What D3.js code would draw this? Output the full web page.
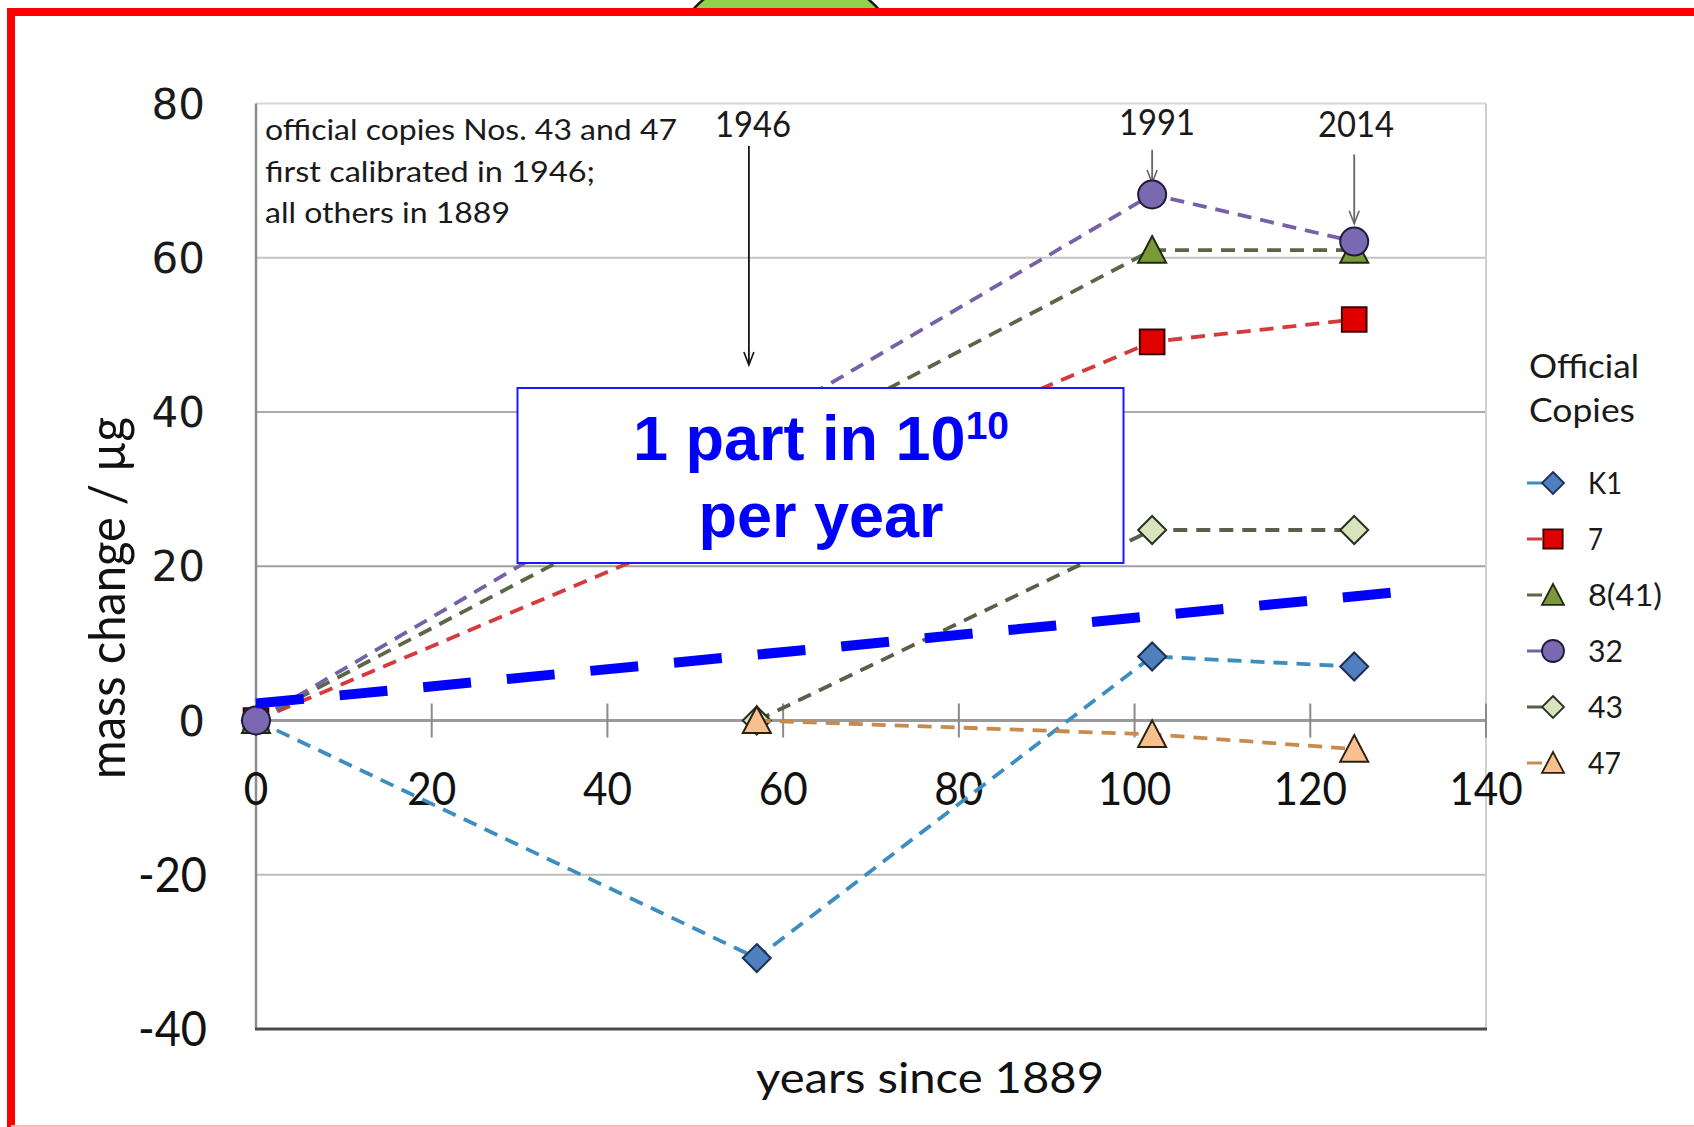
<!DOCTYPE html>
<html>
<head>
<meta charset="utf-8">
<script src="https://cdn.jsdelivr.net/npm/d3@7"></script>
<style>
  html, body { margin: 0; padding: 0; background: #fff; overflow: hidden; }
  svg { display: block; }
</style>
</head>
<body>
<script>
// ---- data -------------------------------------------------------------
// years since 1889 at which the official copies were weighed
const years = [0, 57, 102, 125];

// mass change (µg) of each official copy; null where not weighed
const seriesNames = ['K1', '7', '8(41)', '32', '43', '47'];
const massK1  = [0, -30.8, 8.3, 7.0];
const mass7   = [0, null, 49.1, 52.0];
const mass8   = [0, null, 61.0, 61.0];
const mass32  = [0, null, 68.2, 62.1];
const mass43  = [null, 0, 24.7, 24.7];
const mass47  = [null, 0, -1.8, -3.7];

const xTicks = [0, 20, 40, 60, 80, 100, 120, 140];
const yTicks = [80, 60, 40, 20, 0, -20, -40];

// guide line for a drift of roughly 1 part in 10^10 per year
const trendYears  = [0, 129.5];
const trendValues = [2.2, 16.6];

// calibration campaign arrows
const eventLabels = ['1946', '1991', '2014'];
const eventYears  = [56.1, 102, 125];
const arrowFrom   = [74.5, 74.0, 73.4];
const arrowTo     = [46.1, 69.7, 64.4];

// ---- styles -----------------------------------------------------------
const styles = {
  'K1':    { line: '#3d8ec0', fill: '#4f7fbf', stroke: '#1c2f55', shape: 'diamond' },
  '7':     { line: '#d63a3c', fill: '#e00000', stroke: '#3a0000', shape: 'square' },
  '8(41)': { line: '#5b6647', fill: '#7a9a3a', stroke: '#1e2a10', shape: 'triangle' },
  '32':    { line: '#7661a8', fill: '#7a68b0', stroke: '#1e1a38', shape: 'circle' },
  '43':    { line: '#56604a', fill: '#d8e4bc', stroke: '#2a3020', shape: 'diamond' },
  '47':    { line: '#c88a4e', fill: '#f9c08f', stroke: '#2a2010', shape: 'triangle' }
};
const seriesValues = [massK1, mass7, mass8, mass32, mass43, mass47];

const W = 1694, H = 1127;
const svg = d3.select('body').append('svg').attr('width', W).attr('height', H);

const x = d3.scaleLinear().domain([0, 140]).range([256, 1486]);
const y = d3.scaleLinear().domain([-40, 80]).range([1029, 103.5]);

const LABEL_FONT = 'Lato, "Open Sans", sans-serif';

function text(g, s, o) {
  const t = g.append('text')
    .attr('x', o.x || 0).attr('y', o.y || 0)
    .attr('font-family', o.family || LABEL_FONT)
    .attr('font-size', o.fs)
    .attr('font-weight', o.weight || 'normal')
    .attr('fill', o.fill || '#1a1a1a')
    .attr('text-anchor', o.anchor || 'start')
    .text(s);
  if (o.len) t.attr('textLength', o.len).attr('lengthAdjust', 'spacingAndGlyphs');
  if (o.transform) t.attr('transform', o.transform);
  return t;
}

function markerPath(shape, s) {
  switch (shape) {
    case 'diamond':  return `M0,${-s}L${s},0L0,${s}L${-s},0Z`;
    case 'square':   return `M${-s * 0.88},${-s * 0.88}H${s * 0.88}V${s * 0.88}H${-s * 0.88}Z`;
    case 'triangle': return `M0,${-s}L${s},${s * 0.9}L${-s},${s * 0.9}Z`;
    default:         return d3.symbol(d3.symbolCircle, Math.PI * s * s)();
  }
}

// ---- slide frame ------------------------------------------------------
svg.append('circle').attr('cx', 786).attr('cy', 96).attr('r', 127)
  .attr('fill', '#92d050').attr('stroke', '#1a1a1a').attr('stroke-width', 2.5);
svg.append('rect').attr('x', 11).attr('y', 12).attr('width', 1720).attr('height', 1119)
  .attr('fill', '#fff').attr('stroke', '#ff0000').attr('stroke-width', 8);
svg.append('line').attr('x1', 11).attr('x2', W).attr('y1', 1126).attr('y2', 1126)
  .attr('stroke', '#ffb8b8').attr('stroke-width', 2);

// ---- plot frame & grid ------------------------------------------------
const grid = svg.append('g');
const gridColour = { 80: '#d6d6d6', 60: '#c4c4c4', 40: '#a9a9a9', 20: '#a0a0a0', '-20': '#bcbcbc' };
grid.selectAll('line.h').data(yTicks.filter(v => v !== 0 && v !== -40)).join('line')
  .attr('x1', x(0)).attr('x2', x(140))
  .attr('y1', d => y(d)).attr('y2', d => y(d))
  .attr('stroke', d => gridColour[d]).attr('stroke-width', 2);
grid.append('line').attr('x1', x(140)).attr('x2', x(140)).attr('y1', y(80)).attr('y2', y(-40))
  .attr('stroke', '#cfcfcf').attr('stroke-width', 2);
grid.append('line').attr('x1', x(0)).attr('x2', x(0)).attr('y1', y(80)).attr('y2', y(-40))
  .attr('stroke', '#8c8c8c').attr('stroke-width', 2.5);
grid.append('line').attr('x1', x(0) - 1).attr('x2', x(140) + 1).attr('y1', y(-40)).attr('y2', y(-40))
  .attr('stroke', '#4a4a4a').attr('stroke-width', 3);
// x axis through zero with crossing ticks
grid.append('line').attr('x1', x(0)).attr('x2', x(140)).attr('y1', y(0)).attr('y2', y(0))
  .attr('stroke', '#9a9a9a').attr('stroke-width', 3);
grid.selectAll('line.tick').data(xTicks.filter(t => t > 0)).join('line')
  .attr('x1', d => x(d)).attr('x2', d => x(d))
  .attr('y1', y(0) - 17).attr('y2', y(0) + 17)
  .attr('stroke', '#8a8a8a').attr('stroke-width', 2);

// ---- tick labels --------------------------------------------------------
const labels = svg.append('g');
xTicks.forEach(t => {
  const s = String(t);
  text(labels, s, { x: x(t), y: y(0) + 84, fs: 46, anchor: 'middle', len: 24.5 * s.length, fill: '#111' });
});
yTicks.forEach(v => {
  if (v >= 0) {
    text(labels, String(v), { x: 205, y: y(v) + 15, fs: 42, anchor: 'end',
      family: '"DejaVu Sans", Verdana, sans-serif', fill: '#1a1a1a' });
  } else {
    text(labels, String(v), { x: 207, y: y(v) + 17, fs: 48, anchor: 'end', len: 69, fill: '#111' });
  }
});

// axis titles
text(labels, 'years since 1889', { x: 930, y: 1093, fs: 42, anchor: 'middle', len: 348, fill: '#111' });
text(labels, 'mass change / µg', { fs: 50, anchor: 'middle', len: 362, fill: '#111',
  transform: 'translate(125,598) rotate(-90)' });

// ---- annotations ------------------------------------------------------
const notes = svg.append('g');
text(notes, 'official copies Nos. 43 and 47', { x: 265, y: 140, fs: 29, len: 412, fill: '#1a1a1a' });
text(notes, 'first calibrated in 1946;', { x: 265, y: 182, fs: 29, len: 330, fill: '#1a1a1a' });
text(notes, 'all others in 1889', { x: 265, y: 223, fs: 29, len: 245, fill: '#1a1a1a' });

const labelX = [753, 1157, 1356];
const labelY = [137, 135, 137];
eventLabels.forEach((lab, i) => {
  text(notes, lab, { x: labelX[i], y: labelY[i], fs: 36, anchor: 'middle', len: 76, fill: '#1a1a1a' });
  const ax = x(eventYears[i]);
  const col = i === 0 ? '#111' : '#666';
  const y0 = y(arrowFrom[i]), y1 = y(arrowTo[i]);
  notes.append('line').attr('x1', ax).attr('x2', ax).attr('y1', y0).attr('y2', y1)
    .attr('stroke', col).attr('stroke-width', 1.8);
  notes.append('path').attr('d', `M${ax - 5},${y1 - 13}L${ax},${y1}L${ax + 5},${y1 - 13}`)
    .attr('fill', 'none').attr('stroke', col).attr('stroke-width', 1.6);
});

// ---- series -----------------------------------------------------------
const plot = svg.append('g');
seriesNames.forEach((name, i) => {
  const st = styles[name];
  const pts = years.map((t, j) => ({ t, v: seriesValues[i][j] })).filter(p => p.v !== null);
  const g = plot.append('g');
  g.append('path')
    .attr('d', d3.line().x(p => x(p.t)).y(p => y(p.v))(pts))
    .attr('fill', 'none').attr('stroke', st.line).attr('stroke-width', 3.8)
    .attr('stroke-dasharray', '14,9');
  g.selectAll('path.m').data(pts).join('path')
    .attr('transform', p => `translate(${x(p.t)},${y(p.v)})`)
    .attr('d', markerPath(st.shape, 14))
    .attr('fill', st.fill).attr('stroke', st.stroke).attr('stroke-width', 2);
});

// ---- callout box ------------------------------------------------------
const box = svg.append('g');
box.append('rect').attr('x', 517.5).attr('y', 388).attr('width', 606).attr('height', 175)
  .attr('fill', '#fff').attr('stroke', '#1a1aff').attr('stroke-width', 2);
const l1 = box.append('text').attr('x', 821).attr('y', 460)
  .attr('text-anchor', 'middle').attr('font-family', '"Liberation Sans", Arial, sans-serif')
  .attr('font-weight', 'bold').attr('font-size', 63).attr('fill', '#0000ff');
l1.append('tspan').text('1 part in 10');
l1.append('tspan').attr('dy', -21).attr('font-size', 39).text('10');
box.append('text').attr('x', 821).attr('y', 537)
  .attr('text-anchor', 'middle').attr('font-family', '"Liberation Sans", Arial, sans-serif')
  .attr('font-weight', 'bold').attr('font-size', 63).attr('fill', '#0000ff')
  .text('per year');

// ---- drift guide line -------------------------------------------------
svg.append('line')
  .attr('x1', x(trendYears[0])).attr('y1', y(trendValues[0]))
  .attr('x2', x(trendYears[1])).attr('y2', y(trendValues[1]))
  .attr('stroke', '#0000ff').attr('stroke-width', 10)
  .attr('stroke-dasharray', '48,36');

// ---- legend -----------------------------------------------------------
const leg = svg.append('g');
text(leg, 'Official', { x: 1529, y: 378, fs: 33, len: 110, fill: '#1a1a1a' });
text(leg, 'Copies', { x: 1529, y: 422, fs: 33, len: 106, fill: '#1a1a1a' });
const legWidths = { 'K1': 34, '7': 15, '8(41)': 74, '32': 35, '43': 35, '47': 33 };
seriesNames.forEach((name, i) => {
  const st = styles[name];
  const cy = 483 + i * 56;
  leg.append('line').attr('x1', 1527).attr('x2', 1542).attr('y1', cy).attr('y2', cy)
    .attr('stroke', st.line).attr('stroke-width', 3);
  leg.append('path').attr('transform', `translate(1553,${cy})`)
    .attr('d', markerPath(st.shape, 11))
    .attr('fill', st.fill).attr('stroke', st.stroke).attr('stroke-width', 1.8);
  text(leg, name, { x: 1588, y: cy + 11, fs: 30, len: legWidths[name], fill: '#1a1a1a' });
});
</script>
</body>
</html>
